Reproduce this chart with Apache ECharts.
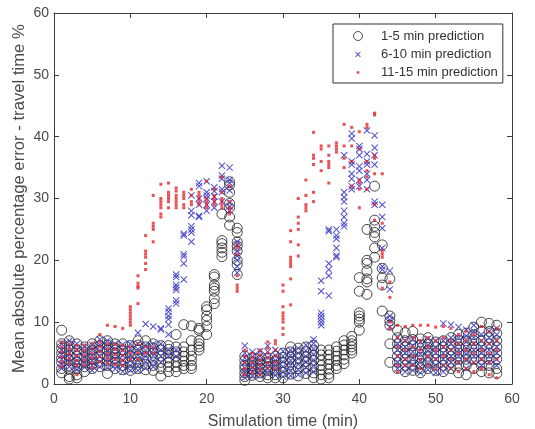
<!DOCTYPE html>
<html>
<head>
<meta charset="utf-8">
<script src="https://cdn.jsdelivr.net/npm/echarts@6/dist/echarts.min.js"></script>
<style>html,body{margin:0;padding:0;background:#fff}#c{width:535px;height:429px}</style>
</head>
<body>
<div id="c"></div>
<script>
// x = simulation minute (1..58); each inner list = y values (%) at that minute
const minutes = Array.from({length: 58}, (_, i) => i + 1);
const xTicks = [0, 10, 20, 30, 40, 50, 60];
const yTicks = [0, 10, 20, 30, 40, 50, 60];
const seriesNames = ['1-5 min prediction', '6-10 min prediction', '11-15 min prediction'];

const circleVals = [
 [8.7,6.5,5.8,5,4.2,3.5,2.5,1.8],[7,6.2,5.5,4.5,3.8,3,2.5,1.2,0.8],[6.5,5.5,4.5,3.5,2.5,1.5,1],[6,5.2,4.3,3.5,2.8,2],
 [6.5,5.5,4.8,4,3.2,2.5],[7,6.2,5.5,4.5,3.5,2.8],[7,6.3,5.5,4.5,3.8,3,1.7],[6.5,5.8,5,4.2,3.5,2.5],
 [6.5,5.5,4.8,4,3,2.3],[6.2,5.3,4.5,3.5,2.8,2.2],[7,6.3,5.5,4.5,3.5,2.5],[7,6,5.2,4.2,3.2,2.3],
 [6.5,5.8,5,4,3,2.2],[6.2,5.5,4.5,3.5,2.5,1.3],[6.2,5.6,5,4.2,3.5,2.8,2],[8,6,5.2,4.5,3.5,2.8,2],
 [9.6,6,5.2,4.5,3.7,3,2.5],[9.4,7,5.5,4.5,3.8,3,2.5],[9,8.7,7,6.5,6,5.5],[12.5,12,11,10.3,9.3,8],
 [17.7,17.3,16,15.5,15,13.8,13],[27.5,23.2,22.7,22,21.3,20.6],[32.7,32.2,31,29.2,28.5,27,25.7],[25.2,24.5,23,22.3,21.5,20,19.3,17.7],
 [4.5,3.8,3,2.5,1.8,1.2,0.6],[4.3,3.6,3,2.4,1.8,1.4],[4.5,3.8,3.2,2.5,1.8,1.2],[4.2,3.5,2.8,2.2,1.5,1],
 [4.5,3.8,3,2.2,1.5,1],[5,4.3,3.5,2.7,1.9,1],[6,5.2,4.3,3.5,2.5,1.6],[5.8,5,4.2,3.3,2.5,1.3],
 [6,5.2,4.4,3.6,2.6,1.7],[6.2,5.4,4.6,3.8,2.8,1.8,1],[5.5,4.7,3.8,3,2.3,1.5,0.8],[5.5,4.7,4,3.2,2.4,1.6,1],
 [6,5.3,4.5,3.8,3,2.5],[7,6.3,5.5,4.7,4,3.3],[7.7,7,6.5,6,5.5,5],[17.2,15,11.5,11,10.5,10,8.7],
 [25,20,19.5,18.3,17,16.5,14.5],[32,26.5,25.5,24.5,23.8,22,20.5],[22.5,18.7,17.2,16,11.8],[17,11,10.2,9.5,6.5,3.5],
 [8.7,7.5,6.5,5.5,4.5,3.5,2.5],[8.3,7,6,5,4,3,2],[8.5,7.2,6.2,5,4,3,2.2],[7.3,6.3,5.3,4.3,3.3,2.5,1.8],
 [7.5,6.5,5.5,4.5,3.5,2.5],[6.8,6,5,4,3,2.2],[7,6,5,4,3,2],[7.5,6.5,5.5,4.5,3.5,2.5],
 [8,7,6,5,4,3,1.8],[8.2,7,6,5,4,3,1.5],[9.2,8,7,6,5,4,2.5],[10,8.5,7,6,5,4,3,2],
 [9.8,8.5,7.5,6.5,5,4,3,1.8],[9.5,8.2,7,6,5,4,2.5,1.7]
];

const crossVals = [
 [6.5,5.5,4.8,4,3.2,2.5],[7,6,5,4.2,3.5,2.8],[6.5,5.6,4.6,3.8,3,2.3],[6,5.2,4.3,3.5,2.7],
 [6.3,5.5,4.6,3.8,3,2.2],[7.2,6.3,5.4,4.5,3.6,2.8],[7,6.2,5.3,4.4,3.5,2.6],[6.5,5.7,4.8,4,3.1,2.4],
 [6.4,5.5,4.6,3.8,2.9,2],[6.5,5.6,4.7,3.9,3,2.2],[8.3,6.5,5.6,4.7,3.8,2.9,2.2],[9.7,6.3,5.4,4.5,3.6,2.6],
 [9.3,6.5,5.5,4.6,3.7,2.8],[9,8.8,6.5,5.5,4.5,3.5],[12.2,11.7,11,10.5,9.6,8,5.5,4.5],[17.7,17.3,16,15.6,15.2,13.5,13,5.5,4.5],
 [24.3,24,21,20.6,19.5,16.9],[30.5,28,27.3,25.5,25,24.5,23],[32.5,32,30,29,27.2,27],[32.8,31,30.5,30,29,28],
 [31.8,31.2,30.3,29.5,28.5],[35.3,33.7,33.2,31.5,31,29.5],[35,33,32.5,31.3,29.3,28.7,28],[23,22.5,21.5,20.7,20,19,18],
 [6.2,5,4.2,3.4,2.6,1.8,1],[5.2,4.4,3.6,2.8,2,1.3],[5.3,4.5,3.7,2.9,2.1,1.4],[6.2,5.2,4.3,3.4,2.5,1.6],
 [5.5,4.6,3.8,3,2.2,1.4],[5.3,4.5,3.6,2.8,2,1.2],[5.5,4.6,3.8,3,2.1,1.3],[5.8,5,4.1,3.2,2.4,1.5],
 [6.3,5.4,4.5,3.6,2.7,1.8],[7.2,6.6,5.7,4.8,3.9,3,2],[16.7,15,11.5,11,10.5,10,9.5],[25,24.7,19.5,18.5,17.5,14.3],
 [25,24,23.5,22,20.8,20.5],[37,31,30.2,29.5,28,27,26,25.5],[40.5,39.7,36,35.5,34,33.2,32,31.5],[38.5,38,37,35.2,34.5,33,32],
 [41,37.2,36,35.5,34,33,31.5],[40.2,38.2,37,35.5,29.5,29],[29,27,25.2,22,19,18.5],[18.3,15.3,11,10.3,9.2],
 [7.5,6.5,5.5,4.5,3.5,2.5],[7,6,5,4,3,2],[7.2,6.2,5.2,4.2,3.2,2.2],[6.8,5.8,4.8,3.8,2.8,1.8],
 [7.3,6.3,5.3,4.3,3.3,2.3],[7,6,5,4,3,1.8],[9.8,7,6,5,4,3,2],[9.6,7.5,6.5,5.5,4.5,3.5,2.5],
 [9.2,7.5,6.5,5.5,4.5,3.5],[8.8,7.8,6.8,5.8,4.8,3.8,2.5],[9.5,8.5,7.5,6.5,5.5,4.5,3.5],[8,7,6,5,4,3],
 [8.5,7.5,6.5,5.5,4.5,3.5],[9,8,7,6,5,4,3]
];

const dotVals = [
 [6.8,6,5.2,4.4,3.6,2.8],[6.5,5.7,4.9,4.1,3.3],[6.2,5.4,4.6,3.8,3,1.5],[6.3,5.5,4.7,3.9,3.1],
 [6.6,5.8,5,4.2,3.4,2.6],[8,6.8,6,5.2,4.4,3.6],[9.5,6.5,5.7,4.9,4.1,3.3],[9.3,6.4,5.6,4.8,4,3.2],
 [9,6.2,5.4,4.6,3.8,3],[12.5,12,11.5,11,10.5,10,9.5,6,5,4],[17.5,16.3,15.8,15.5,13,6.5,5,4],[24,21.5,21,20.5,19.5,18.5,6,5],
 [30.5,26,25.5,25,23,6,5],[32.3,30,29.5,29,28.5,27.5,27],[32.5,31,30.5,30,29.5,28.5],[31.7,31.2,30.5,30,29.5,29,28.5],
 [31,30.5,30,29,28.5],[31.5,30.5,29.5,29],[31,30.5,30,29.5,29],[32.8,30,29.5,29,28.5],
 [31.5,30.5,30,29.5,29],[33.5,31,30,29.5,29,28.5],[32,29.5,28.5,28,27.5],[22.5,22,21,17.5,16,15.5,15],
 [5.5,4.5,3.5,2.5,1.5],[5,4.2,3.4,2.6,1.8],[5.5,4.7,3.9,3.1,2.3,1.5],[6.8,5.8,5,4.2,3.4,2.6],
 [7,6.5,5.5,4.5,3.5,2.5],[16,15,12.5,11.5,11,10.5,10,9,8],[24.8,23,20.5,20,19.5,19,17,12.8],[30,27,26,25,22.5,20.7],
 [33,30.5,29,28.5,28],[40.7,37,36.5,35.5,31,29.5],[38.5,38,36,34.5],[38.5,37,36,35.5,35,32.5],
 [39,38.5,38,37.5],[42,38.5,36.5,35],[41.5,38.5,36,32],[40.8,38,33,32.5,31.5,28.5],
 [42,41.5,36,34.5,33.5,31.5],[43.8,43.5,37,36.5,34,29,26.5],[34,26,21.5,21,20.5,15.5],[16.5,14,10,9],
 [9.5,7.5,6,4.5,3,2],[9.3,7,5.5,4,3],[9.5,7.5,6,4.5,3],[9.5,7,5.5,4,2.5],
 [9.5,7.5,6,4.5,3],[9.2,7,5.5,4,2.5],[9.3,7.5,6,4.5,3],[9,7,5.5,4,2.5],
 [8,6.5,5,3.5,2],[8.5,7,5.5,4,2.5],[8,6.5,5,3.5,2],[9.3,7,5.5,4,2.5],
 [8.5,6.5,5,3.5,1.5],[9,7,5.5,4,1]
];

function toPoints(vals) {
  const out = [];
  vals.forEach((ys, i) => ys.forEach(y => out.push([minutes[i], y])));
  return out;
}

const TXT = '#4a4a4a';
const AX = '#3c3c3c';
const FONT = 'Liberation Sans, Arial, sans-serif';
const XPATH = 'path://M0,1L1,0L5,4L9,0L10,1L6,5L10,9L9,10L5,6L1,10L0,9L4,5Z';
const DOTPATH = 'path://M0,0L0.01,0M10,10L10.01,10M3.5,3.5L6.5,3.5L6.5,6.5L3.5,6.5Z';
const XLEG = 'path://M0,0L0.01,0M10,10L10.01,10M2,2.7L2.7,2L5,4.3L7.3,2L8,2.7L5.7,5L8,7.3L7.3,8L5,5.7L2.7,8L2,7.3L4.3,5Z';

const chart = echarts.init(document.getElementById('c'), null, {renderer: 'canvas'});
const axisCommon = {
  type: 'value', min: 0, max: 60, interval: 10,
  axisLine: {show: true, onZero: false, lineStyle: {color: AX, width: 1}},
  axisTick: {show: true, inside: true, length: 5, lineStyle: {color: AX}},
  splitLine: {show: false}
};
chart.setOption({
  animation: false,
  backgroundColor: '#fff',
  textStyle: {fontFamily: FONT},
  grid: {left: 54, right: 23, top: 13, bottom: 45, containLabel: false, outerBoundsMode: 'none'},
  xAxis: [
    Object.assign({}, axisCommon, {
      position: 'bottom',
      name: 'Simulation time (min)', nameLocation: 'middle', nameGap: 30, nameMoveOverlap: false,
      nameTextStyle: {color: TXT, fontSize: 16, fontFamily: FONT},
      axisLabel: {color: TXT, fontSize: 14, margin: 8, fontFamily: FONT,
        formatter: v => xTicks.includes(v) ? String(v) : ''}
    }),
    Object.assign({}, axisCommon, {position: 'top', axisLabel: {show: false}})
  ],
  yAxis: [
    Object.assign({}, axisCommon, {
      position: 'left',
      name: 'Mean absolute percentage error - travel time %', nameLocation: 'middle', nameGap: 26, nameMoveOverlap: false,
      nameTextStyle: {color: TXT, fontSize: 16.7, fontFamily: FONT},
      axisLabel: {color: TXT, fontSize: 14, margin: 5, fontFamily: FONT,
        formatter: v => yTicks.includes(v) ? String(v) : ''}
    }),
    Object.assign({}, axisCommon, {position: 'right', axisLabel: {show: false}})
  ],
  legend: {
    orient: 'vertical', left: 333, top: 24,
    backgroundColor: '#fff', borderColor: '#333', borderWidth: 1, borderRadius: 0,
    padding: [5, 5, 4, 18],
    itemWidth: 12, itemHeight: 9, itemGap: 5,
    textStyle: {color: '#333', fontSize: 13, fontFamily: FONT, padding: [0, 0, 0, 12]},
    data: [
      {name: seriesNames[0], icon: 'circle', itemStyle: {color: 'none', borderColor: '#222', borderWidth: 1}},
      {name: seriesNames[1], icon: XLEG, itemStyle: {color: '#3838c8', borderWidth: 0}},
      {name: seriesNames[2], icon: DOTPATH, itemStyle: {color: '#e3262c', borderWidth: 0}}
    ]
  },
  series: [
    {
      name: seriesNames[0], type: 'scatter', data: toPoints(circleVals),
      symbol: 'circle', symbolSize: 10,
      itemStyle: {color: 'rgba(0,0,0,0)', borderColor: '#1e1e1e', borderWidth: 1}
    },
    {
      name: seriesNames[1], type: 'scatter', data: toPoints(crossVals),
      symbol: XPATH, symbolSize: 7,
      itemStyle: {color: '#3838c8', opacity: 0.9}
    },
    {
      name: seriesNames[2], type: 'scatter', data: toPoints(dotVals),
      symbol: 'rect', symbolSize: 3,
      itemStyle: {color: '#e3262c'}
    }
  ]
});
</script>
</body>
</html>
